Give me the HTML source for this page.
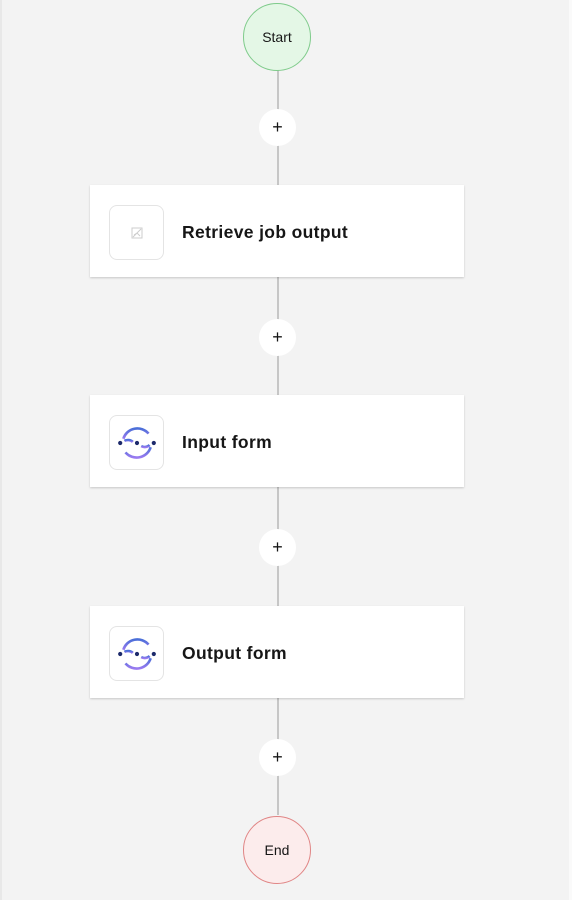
<!DOCTYPE html>
<html><head><style>
body{margin:0;width:572px;height:900px;background:#f3f3f3;font-family:"Liberation Sans",sans-serif;position:relative;overflow:hidden}
.line{position:absolute;left:277px;width:2px;background:#c6c6c6}
.circ{position:absolute;border-radius:50%;display:flex;align-items:center;justify-content:center;font-size:14px;color:#161616;box-sizing:border-box}
.plus{position:absolute;left:259px;width:37px;height:37px;border-radius:50%;background:#fff;display:flex;align-items:center;justify-content:center;font-size:18px;color:#161616}
.card{position:absolute;left:90px;width:374px;height:92px;background:#fff;box-shadow:0 1px 2px rgba(0,0,0,.18)}
.icon{position:absolute;left:19px;top:20px;width:55px;height:55px;border:1px solid #e4e4e4;border-radius:8px;box-sizing:border-box;display:flex;align-items:center;justify-content:center}
.lbl{position:absolute;left:92px;top:37px;font-size:17.5px;letter-spacing:0.35px;font-weight:bold;color:#161616}
</style></head><body>
<div style="position:absolute;left:0;top:0;width:2px;height:900px;background:#e8e8e8"></div>
<div style="position:absolute;left:569px;top:0;width:3px;height:900px;background:#fafafa"></div>
<div class="line" style="top:70px;height:745px"></div>
<div class="circ" style="left:243px;top:3px;width:68px;height:68px;background:#e4f7e6;border:1px solid #7fcb8b">Start</div>
<div class="plus" style="top:109px">+</div>
<div class="card" style="top:185px"><div class="icon"><svg width="12" height="12" viewBox="0 0 12 12"><rect x="1" y="1" width="10" height="10" fill="none" stroke="#ccc"/><path d="M2 10L10 2M3 8l3-2 3 3" stroke="#ccc" fill="none"/></svg></div><div class="lbl">Retrieve job output</div></div>
<div class="plus" style="top:319px">+</div>
<div class="card" style="top:395px"><div class="icon"><svg width="42" height="42" viewBox="0 0 40 40"><defs><linearGradient id="g" x1="0" y1="0" x2="0" y2="1"><stop offset="0" stop-color="#4a6fd8"/><stop offset="1" stop-color="#9a7af0"/></linearGradient></defs><path d="M7 16A14 14 0 0 1 31 11" stroke="url(#g)" stroke-width="2.5" fill="none"/><path d="M33 24A14 14 0 0 1 9 29" stroke="url(#g)" stroke-width="2.5" fill="none"/><path d="M24 23a6 5 0 0 0 8 -1" stroke="url(#g)" stroke-width="2.5" fill="none"/><path d="M8 18a6 5 0 0 1 8 1" stroke="url(#g)" stroke-width="2.5" fill="none"/><circle cx="4" cy="20" r="2" fill="#1d2a6b"/><circle cx="20" cy="20" r="2" fill="#1d2a6b"/><circle cx="36" cy="20" r="2" fill="#1d2a6b"/></svg></div><div class="lbl">Input form</div></div>
<div class="plus" style="top:529px">+</div>
<div class="card" style="top:606px"><div class="icon"><svg width="42" height="42" viewBox="0 0 40 40"><defs><linearGradient id="h" x1="0" y1="0" x2="0" y2="1"><stop offset="0" stop-color="#4a6fd8"/><stop offset="1" stop-color="#9a7af0"/></linearGradient></defs><path d="M7 16A14 14 0 0 1 31 11" stroke="url(#h)" stroke-width="2.5" fill="none"/><path d="M33 24A14 14 0 0 1 9 29" stroke="url(#h)" stroke-width="2.5" fill="none"/><path d="M24 23a6 5 0 0 0 8 -1" stroke="url(#h)" stroke-width="2.5" fill="none"/><path d="M8 18a6 5 0 0 1 8 1" stroke="url(#h)" stroke-width="2.5" fill="none"/><circle cx="4" cy="20" r="2" fill="#1d2a6b"/><circle cx="20" cy="20" r="2" fill="#1d2a6b"/><circle cx="36" cy="20" r="2" fill="#1d2a6b"/></svg></div><div class="lbl">Output form</div></div>
<div class="plus" style="top:739px">+</div>
<div class="circ" style="left:243px;top:816px;width:68px;height:68px;background:#fcecec;border:1px solid #e08585">End</div>
</body></html>
